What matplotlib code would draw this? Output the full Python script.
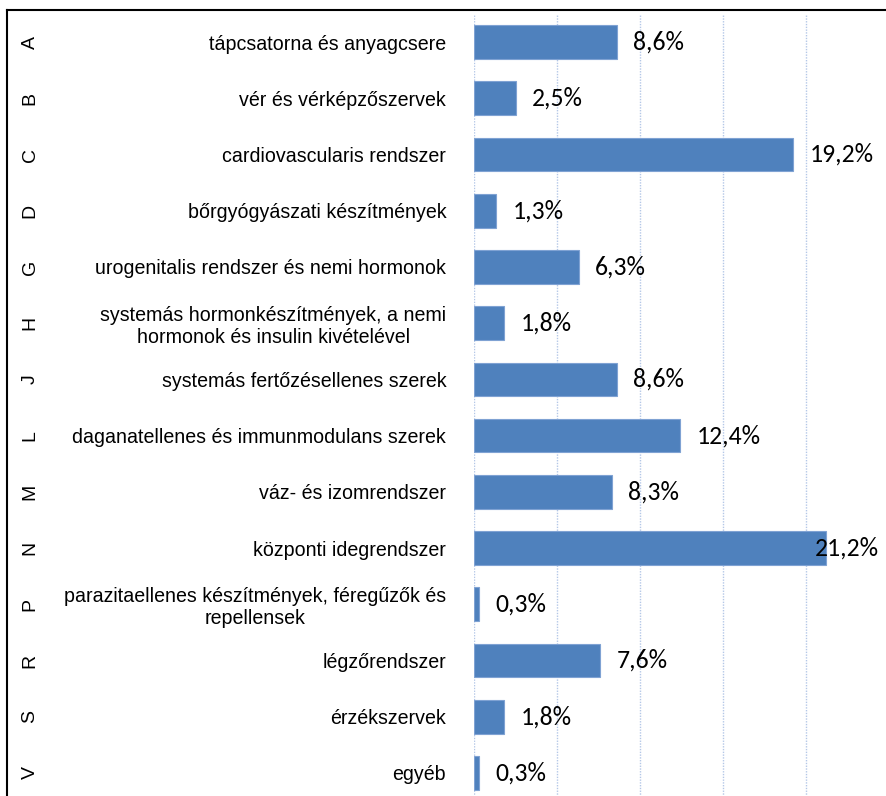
"""ATC főcsoportok szerinti megoszlás, vízszintes oszlopdiagram"""

import numpy as np
from matplotlib import pyplot as plt
from matplotlib import transforms
from matplotlib.lines import Line2D

codes = ['A', 'B', 'C', 'D', 'G', 'H', 'J', 'L', 'M', 'N', 'P', 'R', 'S', 'V']
names = [
    'tápcsatorna és anyagcsere',
    'vér és vérképzőszervek',
    'cardiovascularis rendszer',
    'bőrgyógyászati készítmények',
    'urogenitalis rendszer és nemi hormonok',
    'systemás hormonkészítmények, a nemi\nhormonok és insulin kivételével',
    'systemás fertőzésellenes szerek',
    'daganatellenes és immunmodulans szerek',
    'váz- és izomrendszer',
    'központi idegrendszer',
    'parazitaellenes készítmények, féregűzők és\nrepellensek',
    'légzőrendszer',
    'érzékszervek',
    'egyéb',
]
shares = [8.6, 2.5, 19.2, 1.3, 6.3, 1.8, 8.6, 12.4, 8.3, 21.2, 0.3, 7.6, 1.8, 0.3]

label_font = ['Liberation Sans', 'DejaVu Sans']
value_font = ['Carlito', 'Open Sans', 'DejaVu Sans']

fig = plt.figure(figsize=(8.87, 7.96), dpi=100)
ax = fig.add_axes([474 / 887, -0.0063, 0.468, 0.9887])

y = np.arange(len(codes))
ax.barh(y, shares, height=0.6, color='#4F81BD', edgecolor='#7FA2D3', linewidth=0.8, zorder=2)
ax.set_ylim(len(codes) - 0.5, -0.5)
ax.set_xlim(0, 25)
ax.set_xticks(np.arange(0, 26, 5))
ax.xaxis.grid(True, color='#B4C7E7', linestyle=(0, (1, 1)), linewidth=1.0, zorder=0)
ax.tick_params(axis='x', length=0, labelbottom=False)
for s in ax.spines.values():
    s.set_visible(False)

ax.set_yticks(y)
ax.set_yticklabels(names, family=label_font, fontsize=14.1, multialignment='center')
ax.tick_params(axis='y', length=0, pad=20)

# főcsoport betűjelek a bal szélen
trans = transforms.blended_transform_factory(fig.transFigure, ax.transData)
for yi, c in zip(y, codes):
    ax.text(30 / 887, yi, c, transform=trans, rotation=90, ha='center', va='center',
            family=label_font, fontsize=14)

# értékcímkék, a szélsőt a diagram szélén belülre tolva
fig.canvas.draw()
xmax_px = fig.bbox.width - 8
for yi, v in zip(y, shares):
    t = ax.annotate(f'{v:.1f}%'.replace('.', ','), (v, yi), xytext=(12, 0),
                    textcoords='offset points', ha='left', va='center',
                    family=value_font, fontsize=18.5)
    bb = t.get_window_extent(fig.canvas.get_renderer())
    if bb.x1 > xmax_px:
        t.set_position((-(bb.x1 - xmax_px) * 72 / fig.dpi + 12, 0))

# keret felül és bal oldalon
fig.add_artist(Line2D([7 / 887, 1], [1 - 10 / 796, 1 - 10 / 796], color='black', lw=1.5))
fig.add_artist(Line2D([7 / 887, 7 / 887], [0, 1 - 10 / 796], color='black', lw=1.5))

fig.savefig('out.png', dpi=100)
